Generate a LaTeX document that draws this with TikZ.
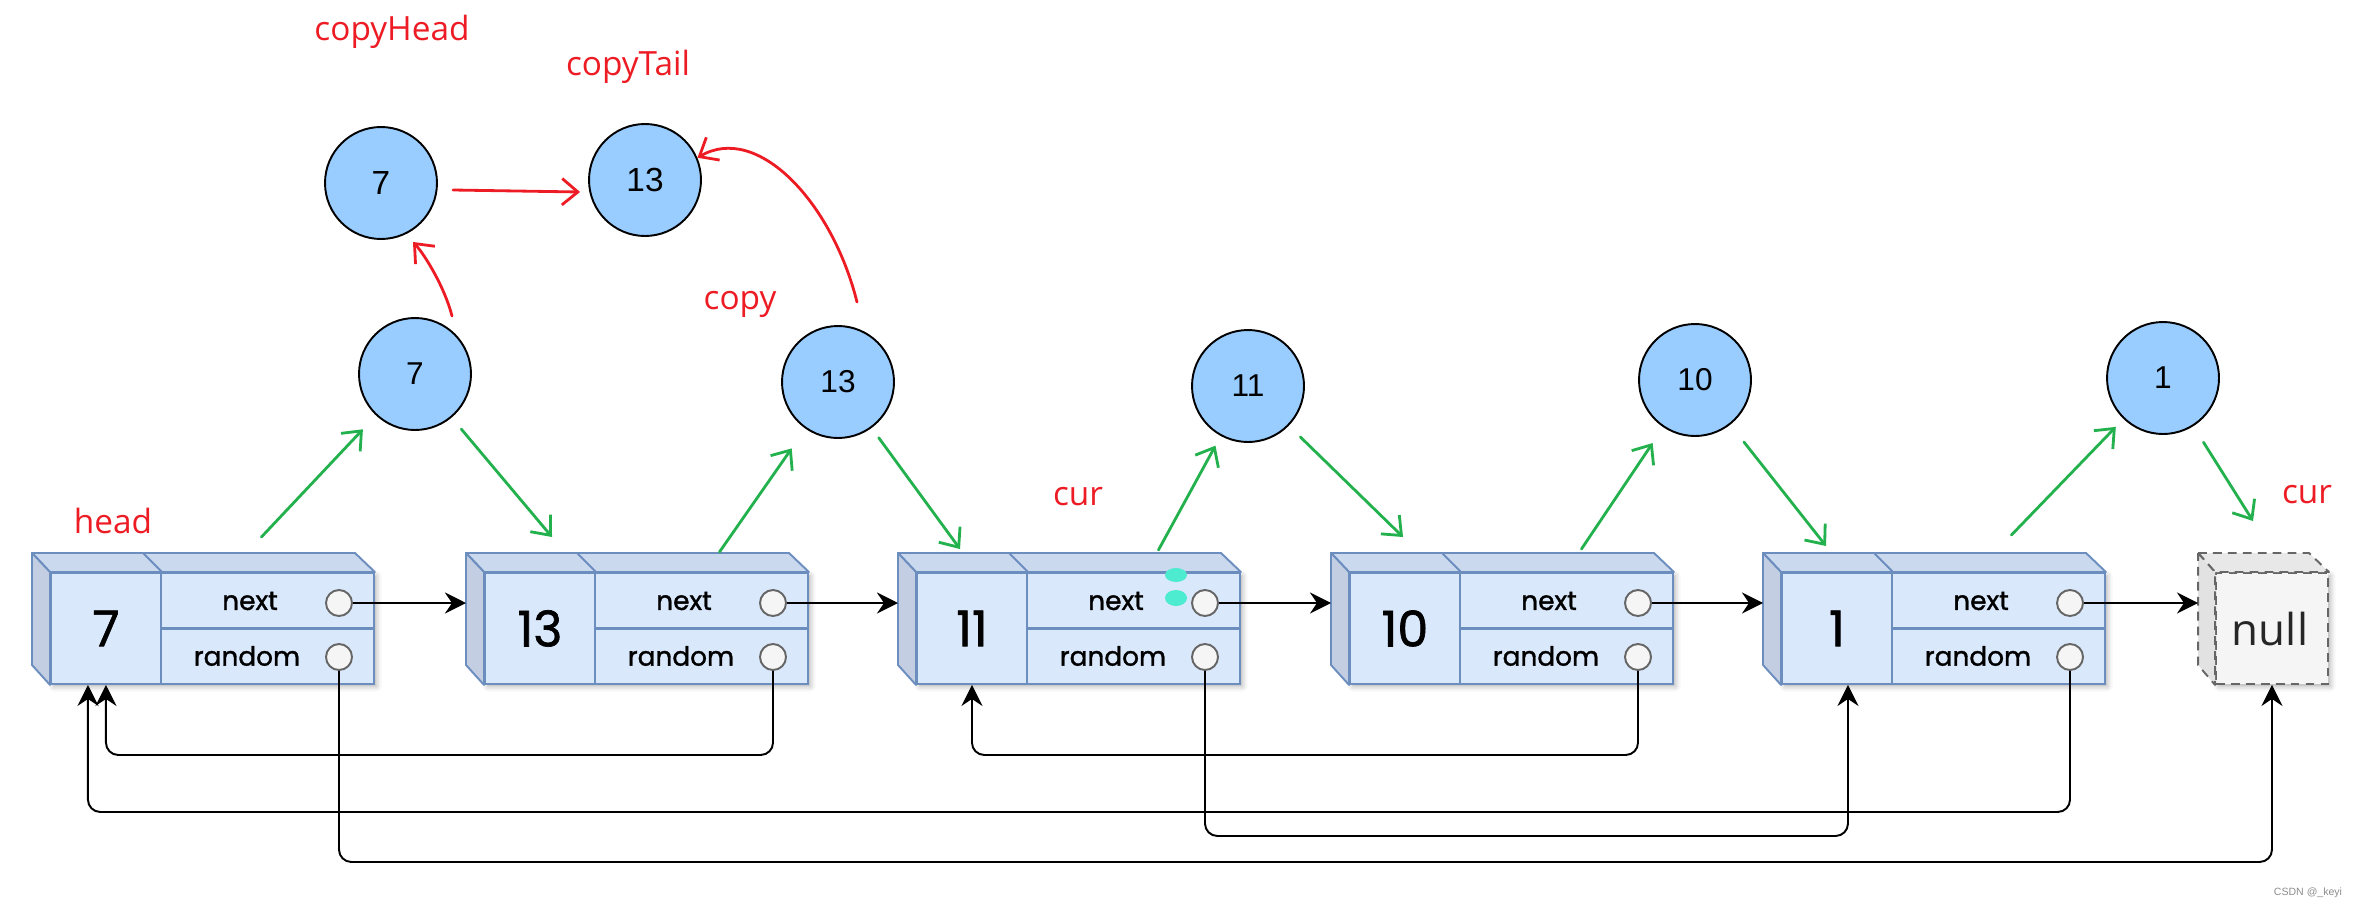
\documentclass[tikz,border=0pt]{standalone}
\usepackage{fontspec}
\setmainfont{Liberation Sans}
\newfontfamily\cellfont{Poppins}[FakeBold=1.3]
\newfontfamily\notefont{Open Sans}
\usetikzlibrary{arrows.meta,positioning,shadows.blur}

\definecolor{cellfill}{HTML}{DAE8FC}
\definecolor{cellline}{HTML}{6C8EBF}
\definecolor{celltop}{HTML}{CBD9EE}
\definecolor{cellside}{HTML}{C3CEE2}
\definecolor{dotfill}{HTML}{F5F5F5}
\definecolor{dotline}{HTML}{666666}
\definecolor{copyfill}{HTML}{99CCFF}
\definecolor{pengreen}{HTML}{22B14C}
\definecolor{penred}{HTML}{ED1C24}
\definecolor{nulltop}{HTML}{E8E8E8}
\definecolor{nullside}{HTML}{E2E2E2}
\definecolor{marker}{HTML}{4DEBCF}

\begin{document}
\begin{tikzpicture}[x=0.02cm,y=-0.02cm,
  every node/.style={inner sep=0pt},
  front/.style={draw=cellline,fill=cellfill,line width=1.1pt,
    minimum width=6.46cm,minimum height=2.22cm,anchor=north west,
    blur shadow={shadow xshift=1.5pt,shadow yshift=-1.5pt,
      shadow blur radius=3pt,shadow opacity=30}},
  valcell/.style={draw=cellline,line width=1.1pt,minimum width=2.2cm,
    minimum height=2.22cm,anchor=north west,
    font=\cellfont\fontsize{28}{28}\selectfont},
  face/.style={draw=cellline,fill=celltop,line width=1.1pt,line join=round},
  fieldtext/.style={font=\cellfont\fontsize{15}{15}\selectfont},
  dot/.style={circle,draw=dotline,fill=dotfill,line width=1.1pt,
    minimum size=0.52cm},
  copynode/.style={circle,draw=black,fill=copyfill,line width=1.1pt,
    minimum size=2.24cm,font=\fontsize{18}{18}\selectfont},
  nextlink/.style={draw,line width=1.1pt,
    -{Stealth[length=12pt,width=12pt,inset=4pt]}},
  randlink/.style={nextlink,rounded corners=7pt},
  greenpen/.style={draw=pengreen,line width=1.6pt,line cap=round,
    -{Straight Barb[length=9pt,width=15pt]}},
  redpen/.style={greenpen,draw=penred},
  notelabel/.style={text=penred,anchor=base,
    font=\notefont\fontsize{19}{19}\selectfont}]
\useasboundingbox (0,0) rectangle (2358,906);

% the list: value | next | random
\foreach \i/\X/\v in {1/32/7,2/466/13,3/898/11,4/1331/10,5/1763/1}{
  \node[front] (b\i) at (\X+18,572) {};
  \draw[face] (\X,553) -- (\X+323,553) -- (b\i.north east)
    -- (b\i.north west) -- cycle;
  \draw[face,fill=cellside] (\X,553) -- (b\i.north west)
    -- (b\i.south west) -- (\X,665) -- cycle;
  \node[valcell] (v\i) at (\X+18,572) {\v};
  \draw[face] (\X+111,553) -- (v\i.north east);
  \draw[cellline,line width=2.2pt] (v\i.east) -- (b\i.east);
  \node[fieldtext] (nt\i) at (\X+218,601) {next};
  \node[fieldtext] (rt\i) at (\X+215,656) {random};
  \node[dot] (n\i) at (\X+307,603) {};
  \node[dot] (r\i) at (\X+307,657) {};
  \coordinate (in\i) at (\X,603);
}

% null
\node[front,minimum width=2.24cm,draw=dotline,fill=dotfill,dashed,
  dash pattern=on 5pt off 3.5pt] (nullb) at (2215,572) {};
\draw[face,draw=dotline,fill=nulltop,dash pattern=on 5pt off 3.5pt]
  (2198,553) -- (2309,553) -- (nullb.north east) -- (nullb.north west) -- cycle;
\draw[face,draw=dotline,fill=nullside,dash pattern=on 5pt off 3.5pt]
  (2198,553) -- (nullb.north west) -- (nullb.south west) -- (2198,665) -- cycle;
\node[font=\notefont\fontsize{25}{25}\selectfont,text=black!85] (nulltext)
  at (2270,629) {null};
\coordinate (innull) at (2198,603);

% next pointers
\foreach \i/\j in {1/2,2/3,3/4,4/5}
  \draw[nextlink] (n\i) -- (in\j);
\draw[nextlink] (n5) -- (innull);

% random pointers
\draw[randlink] (r1.south) -- ++(0,191) -| (nullb.south);
\draw[randlink] (r2.south) -- ++(0,84) -| (v1.south);
\draw[randlink] (r3.south) -- ++(0,165) -| ([xshift=0.22cm]v5.south);
\draw[randlink] (r4.south) -- ++(0,84) -| (v3.south);
\draw[randlink] (r5.south) -- ++(0,141) -| ([xshift=-0.36cm]v1.south);

% copies
\foreach \i/\x/\y/\v in {1/415/374/7,2/838/382/13,3/1248/386/11,
    4/1695/380/10,5/2163/378/1}
  \node[copynode] (c\i) at (\x,\y) {\v};
\node[copynode,font=\fontsize{19}{19}\selectfont] (t1) at (381,183) {7};
\node[copynode,font=\fontsize{19}{19}\selectfont] (t2) at (645,180) {13};

% weaving the copies in
\foreach \i/\ux/\uy/\ug/\j/\dx/\dy/\dg in {1/49/-35/19/b2/68/-35/15,
    2/73/-20/24/b3/44/-23/12,3/80/-22/11/b4/54/-35/16,
    4/70/-23/19/b5/45/-26/22,5/68/-37/11/nullb/38/-51/19}{
  \draw[greenpen,shorten >=\ug*0.02cm] ([shift={(\ux,\uy)}]b\i.north) -- (c\i);
  \draw[greenpen,shorten <=\dg*0.02cm] (c\i) -- ([shift={(\dx,\dy)}]\j.north west);
}

% copied list
\draw[redpen] ([shift={(15,7)}]t1.east) -- ([shift={(-8,12)}]t2.west);
\draw[redpen] ([shift={(37,-1)}]c1.north) .. controls +(-7,-28) and +(12,13)
  .. ([shift={(32,2)}]t1.south);
\draw[redpen] ([shift={(19,-23)}]c2.north) .. controls +(-25,-100) and +(60,-35)
  .. (t2.23);

\node[notelabel] (lblhead) at (392,40) {copyHead};
\node[notelabel] (lbltail) at (628,75) {copyTail};
\node[notelabel] (lblcopy) at (740,309) {copy};
\node[notelabel] (lblorig) at (113,533) {head};
\node[notelabel] (lblcur) at (1078,505) {cur};
\node[notelabel] (lblend) at (2307,503) {cur};

% cursor mark
\fill[marker] (1176,575) ellipse [x radius=11,y radius=7];
\fill[marker] (1176,598) ellipse [x radius=11,y radius=8];

\node[text=black!45,font=\fontsize{6}{6}\selectfont] (mark) at (2308,893)
  {CSDN @\_keyi};
\end{tikzpicture}
\end{document}
